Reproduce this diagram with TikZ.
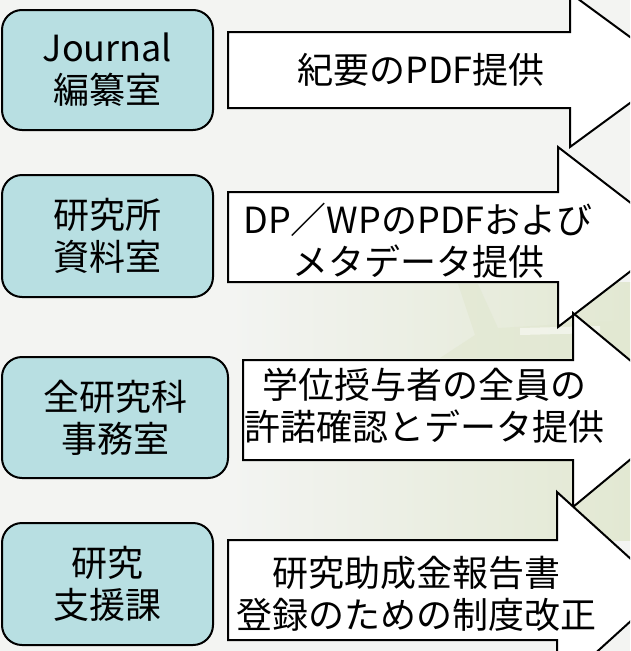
\documentclass[tikz,border=0pt]{standalone}
\usepackage{fontspec}
\setmainfont{Noto Sans CJK JP}
\usetikzlibrary{calc}

\definecolor{boxcyan}{HTML}{B8DFE2}
\definecolor{paper}{HTML}{F3F4F2}
\definecolor{leaf}{HTML}{E2E8D2}
\newcommand{\bigjp}{\fontsize{36}{42}\selectfont}
% shaft left, shaft right, top, bottom, half head, tip
\newcommand{\blockarrow}[6]{%
  \draw[arrowline] (#1,#3) -- (#2,#3) -- (#2,{(#3+#4)/2-#5}) -- (#6,{(#3+#4)/2})
    -- (#2,{(#3+#4)/2+#5}) -- (#2,#4) -- (#1,#4) -- cycle;}

\begin{document}
\begin{tikzpicture}[x=1pt,y=-1pt,
  dept/.style={draw,line width=2pt,fill=boxcyan,rounded corners=20pt,align=center,font=\bigjp,inner sep=2pt},
  arrowline/.style={line width=2pt,fill=white,line join=miter},
  note/.style={align=center,font=\bigjp,inner sep=0pt}]
\useasboundingbox (0,0) rectangle (630,651);
\clip (0,0) rectangle (630,651);
\fill[paper] (0,0) rectangle (630,651);
\fill[left color=paper,right color=leaf] (230,282) rectangle (630,360);
\fill[leaf,opacity=.7] (458,284) -- (478,284) -- (498,328) -- (630,320) -- (630,358) -- (440,358) -- (475,335) -- cycle;
\fill[left color=paper,right color=leaf] (230,460) rectangle (630,540);
\fill[white,opacity=.5] (520,328) -- (600,326) -- (600,333) -- (520,335) -- cycle;

\node[dept,minimum width=211pt,minimum height=120pt] (journal) at (107.5,70) {Journal\\編纂室};
\node[dept,minimum width=211pt,minimum height=122pt] (lib) at (107.5,236) {研究所\\資料室};
\node[dept,minimum width=226pt,minimum height=121pt] (office) at (115,417.5) {全研究科\\事務室};
\node[dept,minimum width=211pt,minimum height=122pt] (support) at (107.5,584) {研究\\支援課};

\blockarrow{228}{570}{32}{108}{77}{675}
\blockarrow{228}{558}{192}{282}{90}{675}
\blockarrow{243}{573}{360}{460}{97}{690}
\blockarrow{228}{557}{540}{640}{98}{665}

\node[note] (pdf) at (421,70) {紀要のPDF提供};
\node[note] (meta) at (418,241) {DP／WPのPDFおよび\\メタデータ提供};
\node[note] (consent) at (424,406) {学位授与者の全員の\\許諾確認とデータ提供};
\node[note] (grant) at (416,594) {研究助成金報告書\\登録のための制度改正};
\end{tikzpicture}
\end{document}
